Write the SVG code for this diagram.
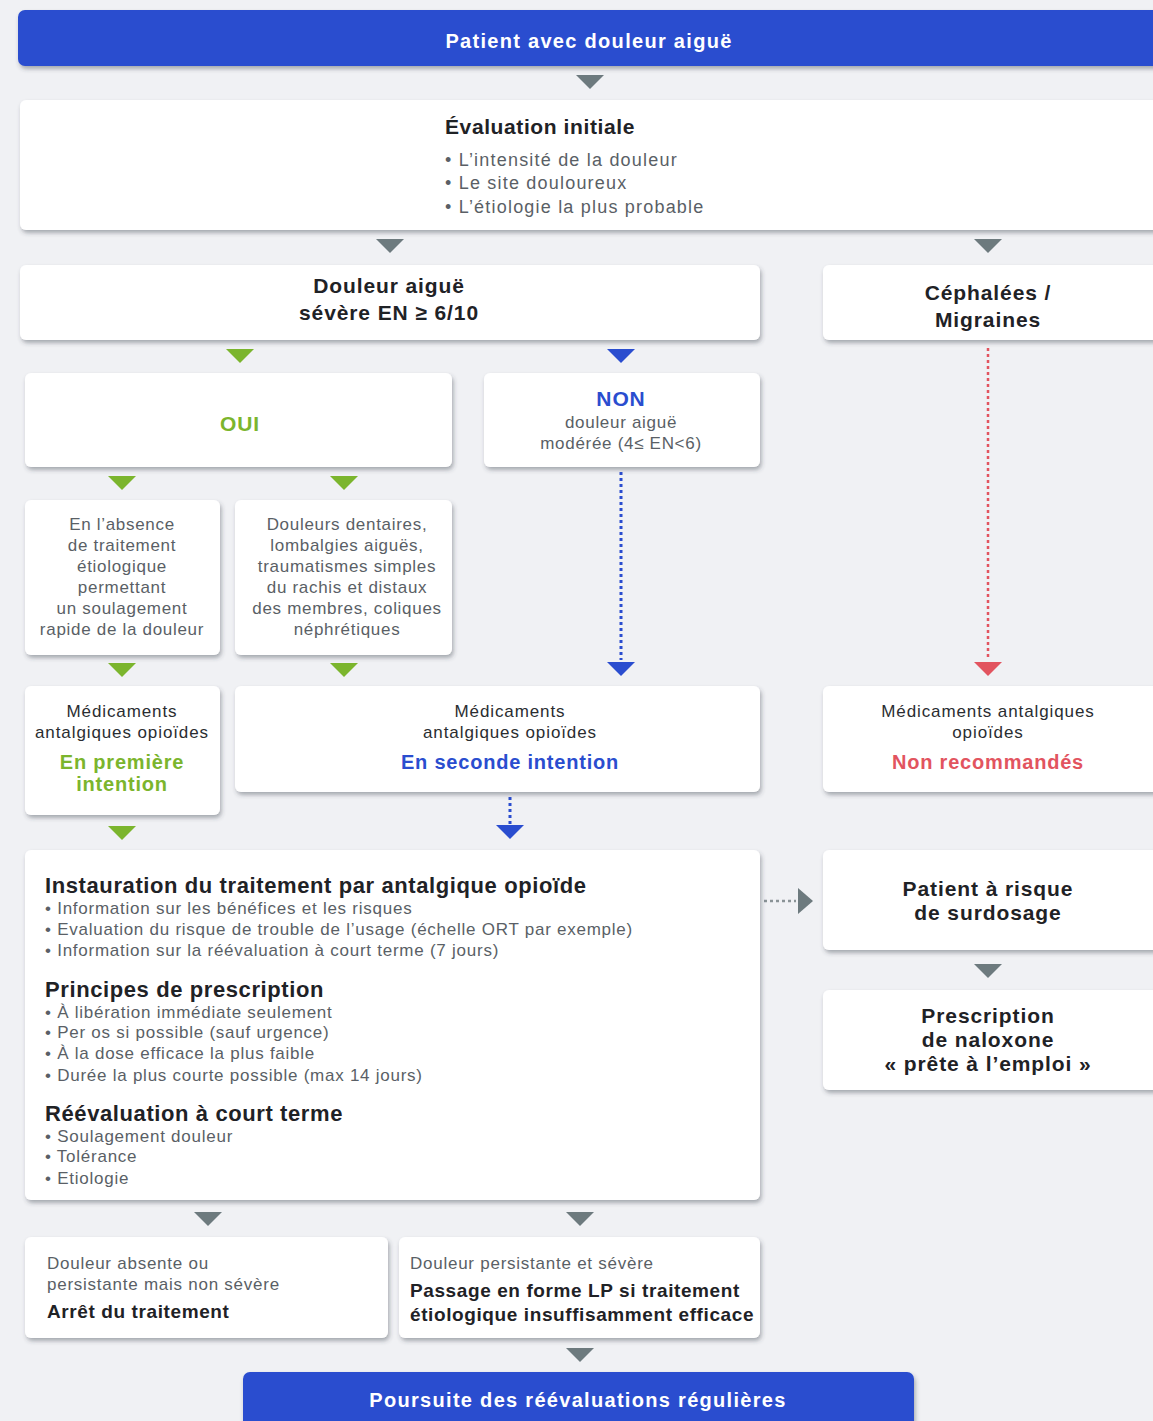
<svg xmlns="http://www.w3.org/2000/svg" xmlns:xlink="http://www.w3.org/1999/xlink" width="1153" height="1421" viewBox="0 0 1153 1421">
  <defs>
    <filter id="shadow" x="-5%" y="-10%" width="110%" height="130%">
      <feDropShadow dx="1.5" dy="3" stdDeviation="2.2" flood-color="#3a3f48" flood-opacity="0.4"/>
    </filter>
    <path id="tri" d="M-14,-7 L14,-7 L0,7 Z"/>
    <path id="triR" d="M-7,-13 L8,0 L-7,13 Z"/>
    <style>
      .card { fill: #ffffff; filter: url(#shadow); }
      .bar { fill: #2a4dcf; filter: url(#shadow); }
      text { font-family: "Liberation Sans", Arial, sans-serif; }
      .t-bar { fill: #ffffff; font-size: 20px; font-weight: bold; text-anchor: middle; letter-spacing: 1.3px; }
      .h { fill: #1f2226; font-weight: bold; letter-spacing: 0.6px; }
      .hc { fill: #1f2226; font-weight: bold; text-anchor: middle; font-size: 21px; letter-spacing: 0.9px; }
      .sub { font-size: 20px; letter-spacing: 0.8px; }
      .b { fill: #5a5f66; font-size: 17px; letter-spacing: 0.75px; }
      .be { fill: #5a5f66; font-size: 18px; letter-spacing: 1.2px; }
      .bc { fill: #5a5f66; font-size: 17px; text-anchor: middle; letter-spacing: 0.7px; }
      .mc { fill: #2a2d31; font-size: 17px; text-anchor: middle; letter-spacing: 0.9px; }
      .green { fill: #7bb52d; }
      .blue { fill: #2a4dcf; }
      .red { fill: #e2545f; }
      .gray { fill: #6d7a7e; }
      .dot-blue { stroke: #2a4dcf; stroke-width: 3; stroke-dasharray: 3 3; fill: none; }
      .dot-red { stroke: #e2545f; stroke-width: 2.5; stroke-dasharray: 3 3; fill: none; }
      .dot-gray { stroke: #8a9396; stroke-width: 2.5; stroke-dasharray: 3 3; fill: none; }
    </style>
  </defs>

  <!-- page background -->
  <rect x="0" y="0" width="1153" height="1421" fill="#f0f1f4"/>

  <!-- connectors: arrowheads and dotted links -->
  <g id="connectors">
    <use xlink:href="#tri" x="590" y="82" class="gray"/>
    <use xlink:href="#tri" x="390" y="246" class="gray"/>
    <use xlink:href="#tri" x="988" y="246" class="gray"/>
    <use xlink:href="#tri" x="240" y="356" class="green"/>
    <use xlink:href="#tri" x="621" y="356" class="blue"/>
    <use xlink:href="#tri" x="122" y="483" class="green"/>
    <use xlink:href="#tri" x="344" y="483" class="green"/>
    <path class="dot-blue" d="M621,472 V660"/>
    <use xlink:href="#tri" x="621" y="669" class="blue"/>
    <use xlink:href="#tri" x="122" y="670" class="green"/>
    <use xlink:href="#tri" x="344" y="670" class="green"/>
    <path class="dot-red" d="M988,348 V660"/>
    <use xlink:href="#tri" x="988" y="669" class="red"/>
    <use xlink:href="#tri" x="122" y="833" class="green"/>
    <path class="dot-blue" d="M510,797 V826"/>
    <use xlink:href="#tri" x="510" y="832" class="blue"/>
    <path class="dot-gray" d="M764,901 H796"/>
    <use xlink:href="#triR" x="805" y="901" class="gray"/>
    <use xlink:href="#tri" x="988" y="971" class="gray"/>
    <use xlink:href="#tri" x="208" y="1219" class="gray"/>
    <use xlink:href="#tri" x="580" y="1219" class="gray"/>
    <use xlink:href="#tri" x="580" y="1355" class="gray"/>
  </g>

  <g id="start">
    <rect class="bar" x="18" y="10" width="1145" height="56" rx="7"/>
    <text class="t-bar" x="589" y="48">Patient avec douleur aiguë</text>
  </g>

  <g id="evaluation">
    <rect class="card" x="20" y="100" width="1143" height="130" rx="6"/>
    <text class="h" x="445" y="134" font-size="21" letter-spacing="0.8">Évaluation initiale</text>
    <text class="be" x="445" y="166">• L’intensité de la douleur</text>
    <text class="be" x="445" y="189">• Le site douloureux</text>
    <text class="be" x="445" y="213">• L’étiologie la plus probable</text>
  </g>

  <g id="severe">
    <rect class="card" x="20" y="265" width="740" height="75" rx="6"/>
    <text class="hc" x="389" y="293">Douleur aiguë</text>
    <text class="hc" x="389" y="320">sévère EN ≥ 6/10</text>
  </g>

  <g id="cephalees">
    <rect class="card" x="823" y="265" width="340" height="75" rx="6"/>
    <text class="hc" x="988" y="300">Céphalées /</text>
    <text class="hc" x="988" y="327">Migraines</text>
  </g>

  <g id="oui">
    <rect class="card" x="25" y="373" width="427" height="94" rx="6"/>
    <text class="hc green" x="240" y="431" font-size="22">OUI</text>
  </g>

  <g id="non">
    <rect class="card" x="484" y="373" width="276" height="94" rx="6"/>
    <text class="hc blue" x="621" y="406" font-size="22">NON</text>
    <text class="bc" x="621" y="428">douleur aiguë</text>
    <text class="bc" x="621" y="449">modérée (4≤ EN&lt;6)</text>
  </g>

  <g id="sans-traitement">
    <rect class="card" x="25" y="500" width="195" height="155" rx="6"/>
    <text class="bc" x="122" y="530">En l’absence</text>
    <text class="bc" x="122" y="551">de traitement</text>
    <text class="bc" x="122" y="572">étiologique</text>
    <text class="bc" x="122" y="593">permettant</text>
    <text class="bc" x="122" y="614">un soulagement</text>
    <text class="bc" x="122" y="635">rapide de la douleur</text>
  </g>

  <g id="douleurs-specifiques">
    <rect class="card" x="235" y="500" width="217" height="155" rx="6"/>
    <text class="bc" x="347" y="530">Douleurs dentaires,</text>
    <text class="bc" x="347" y="551">lombalgies aiguës,</text>
    <text class="bc" x="347" y="572">traumatismes simples</text>
    <text class="bc" x="347" y="593">du rachis et distaux</text>
    <text class="bc" x="347" y="614">des membres, coliques</text>
    <text class="bc" x="347" y="635">néphrétiques</text>
  </g>

  <g id="premiere-intention">
    <rect class="card" x="25" y="686" width="195" height="129" rx="6"/>
    <text class="mc" x="122" y="717">Médicaments</text>
    <text class="mc" x="122" y="738">antalgiques opioïdes</text>
    <text class="hc green sub" x="122" y="769">En première</text>
    <text class="hc green sub" x="122" y="791">intention</text>
  </g>

  <g id="seconde-intention">
    <rect class="card" x="235" y="686" width="525" height="106" rx="6"/>
    <text class="mc" x="510" y="717">Médicaments</text>
    <text class="mc" x="510" y="738">antalgiques opioïdes</text>
    <text class="hc blue sub" x="510" y="769">En seconde intention</text>
  </g>

  <g id="non-recommandes">
    <rect class="card" x="823" y="686" width="340" height="106" rx="6"/>
    <text class="mc" x="988" y="717">Médicaments antalgiques</text>
    <text class="mc" x="988" y="738">opioïdes</text>
    <text class="hc red sub" x="988" y="769">Non recommandés</text>
  </g>

  <g id="instauration">
    <rect class="card" x="25" y="850" width="735" height="350" rx="6"/>
    <text class="h" x="45" y="893" font-size="22">Instauration du traitement par antalgique opioïde</text>
    <text class="b" x="45" y="914">• Information sur les bénéfices et les risques</text>
    <text class="b" x="45" y="935">• Evaluation du risque de trouble de l’usage (échelle ORT par exemple)</text>
    <text class="b" x="45" y="956">• Information sur la réévaluation à court terme (7 jours)</text>
    <text class="h" x="45" y="997" font-size="22">Principes de prescription</text>
    <text class="b" x="45" y="1018">• À libération immédiate seulement</text>
    <text class="b" x="45" y="1038">• Per os si possible (sauf urgence)</text>
    <text class="b" x="45" y="1059">• À la dose efficace la plus faible</text>
    <text class="b" x="45" y="1081">• Durée la plus courte possible (max 14 jours)</text>
    <text class="h" x="45" y="1121" font-size="22">Réévaluation à court terme</text>
    <text class="b" x="45" y="1142">• Soulagement douleur</text>
    <text class="b" x="45" y="1162">• Tolérance</text>
    <text class="b" x="45" y="1184">• Etiologie</text>
  </g>

  <g id="risque-surdosage">
    <rect class="card" x="823" y="850" width="340" height="100" rx="6"/>
    <text class="hc" x="988" y="896">Patient à risque</text>
    <text class="hc" x="988" y="920">de surdosage</text>
  </g>

  <g id="naloxone">
    <rect class="card" x="823" y="990" width="340" height="100" rx="6"/>
    <text class="hc" x="988" y="1023">Prescription</text>
    <text class="hc" x="988" y="1047">de naloxone</text>
    <text class="hc" x="988" y="1071">« prête à l’emploi »</text>
  </g>

  <g id="arret">
    <rect class="card" x="25" y="1237" width="363" height="101" rx="6"/>
    <text class="b" x="47" y="1269">Douleur absente ou</text>
    <text class="b" x="47" y="1290">persistante mais non sévère</text>
    <text class="h" x="47" y="1318" font-size="19">Arrêt du traitement</text>
  </g>

  <g id="passage-lp">
    <rect class="card" x="399" y="1237" width="361" height="101" rx="6"/>
    <text class="b" x="410" y="1269">Douleur persistante et sévère</text>
    <text class="h" x="410" y="1297" font-size="19" letter-spacing="0.25">Passage en forme LP si traitement</text>
    <text class="h" x="410" y="1321" font-size="19" letter-spacing="0.25">étiologique insuffisamment efficace</text>
  </g>

  <g id="suivi">
    <rect class="bar" x="243" y="1372" width="671" height="60" rx="7"/>
    <text class="t-bar" x="578" y="1407">Poursuite des réévaluations régulières</text>
  </g>
</svg>
